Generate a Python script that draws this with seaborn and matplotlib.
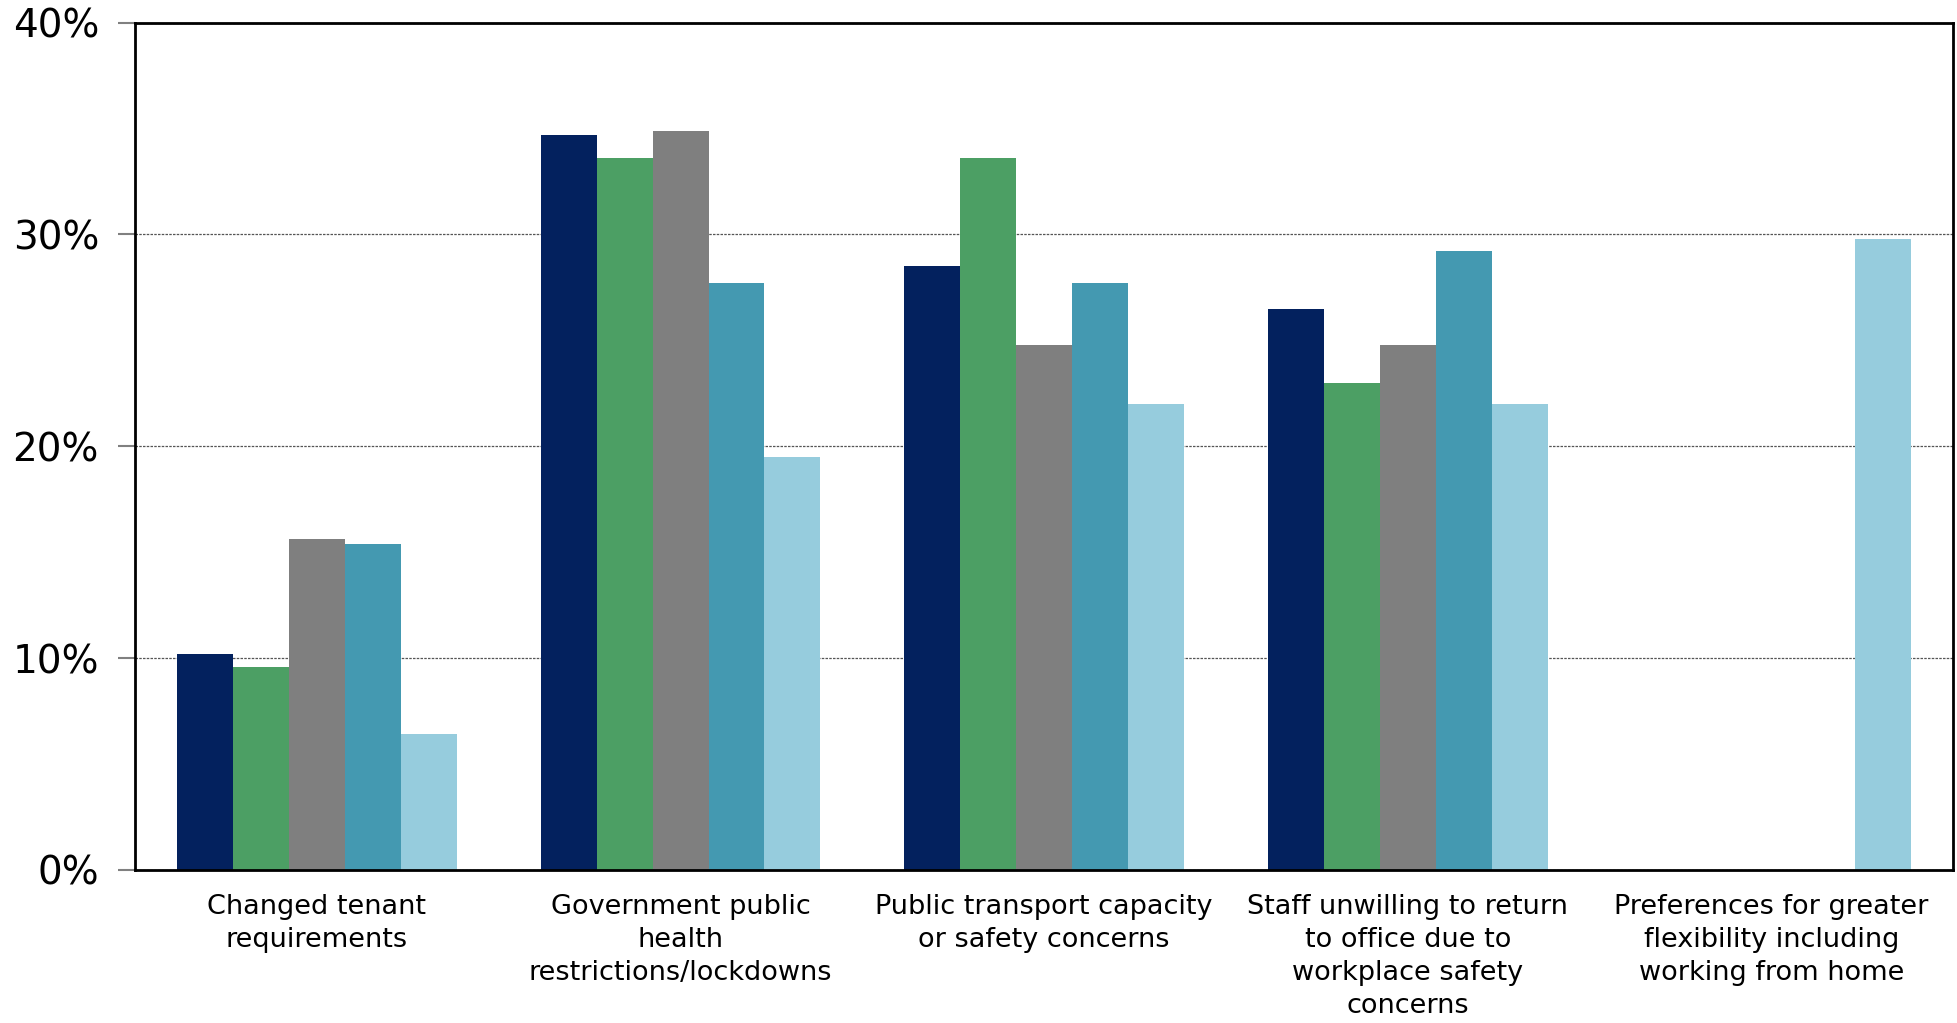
import numpy as np
import pandas as pd
import matplotlib
matplotlib.use("Agg")
import matplotlib.pyplot as plt
import seaborn as sns

# Données (en %)
categories = [
    "Changed tenant\nrequirements",
    "Government public\nhealth\nrestrictions/lockdowns",
    "Public transport capacity\nor safety concerns",
    "Staff unwilling to return\nto office due to\nworkplace safety\nconcerns",
    "Preferences for greater\nflexibility including\nworking from home",
]
series = ["Series 1", "Series 2", "Series 3", "Series 4", "Series 5"]
series_1 = [10.2, 34.7, 28.5, 26.5, 0.0]
series_2 = [9.6, 33.6, 33.6, 23.0, 0.0]
series_3 = [15.6, 34.9, 24.8, 24.8, 0.0]
series_4 = [15.4, 27.7, 27.7, 29.2, 0.0]
series_5 = [6.4, 19.5, 22.0, 22.0, 29.8]

colors = ["#03215E", "#4C9F64", "#7F7F7F", "#4499B1", "#96CCDD"]

#%% Dataframe long
df = pd.DataFrame({
    "Catégorie": categories * 5,
    "Série": np.repeat(series, len(categories)),
    "Valeur": series_1 + series_2 + series_3 + series_4 + series_5,
})

sns.set_style("white")
plt.rcParams["font.family"] = ["DejaVu Sans"]

fig = plt.figure(figsize=(19.58, 10.23), dpi=100)
ax = fig.add_axes([0.069, 0.1496, 0.9285, 0.8284])

sns.barplot(data=df, x="Catégorie", y="Valeur", hue="Série",
            order=categories, hue_order=series, palette=colors,
            saturation=1, width=0.77, linewidth=0, legend=False, ax=ax)

ax.set_ylim(0, 40)
ax.set_xlim(-0.5, len(categories) - 0.5)
ax.set_yticks([0, 10, 20, 30, 40])
ax.set_yticklabels(["0%", "10%", "20%", "30%", "40%"], fontsize=28)
ax.tick_params(axis="y", which="both", left=True, length=12, width=1.5,
               color="#808080", pad=14, labelcolor="black")
ax.tick_params(axis="x", length=0, pad=17, labelsize=19.5, labelcolor="black")
for lab in ax.get_xticklabels():
    lab.set_linespacing(1.35)
ax.set_xlabel("")
ax.set_ylabel("")

# Grille pointillée
ax.yaxis.grid(True, linestyle=(0, (2, 1)), color="#555555", linewidth=0.9)
ax.set_axisbelow(True)
for s in ax.spines.values():
    s.set_visible(True)
    s.set_color("black")
    s.set_linewidth(2)

fig.savefig("out.png", dpi=100)
